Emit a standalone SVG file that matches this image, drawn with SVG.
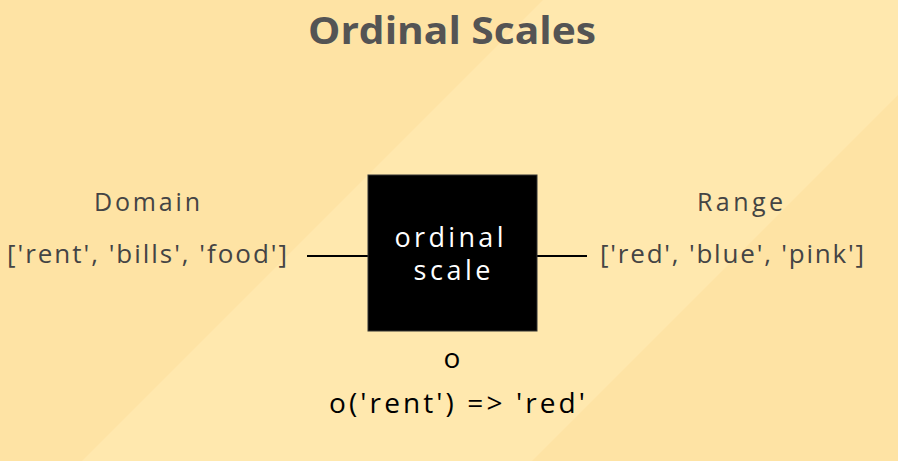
<svg xmlns="http://www.w3.org/2000/svg" width="898" height="461" viewBox="0 0 898 461">
  <style>
    .t { font-family: "Open Sans", "Noto Sans", "DejaVu Sans", sans-serif; text-anchor: middle; }
    .title { font-weight: 700; font-size: 38px; fill: #545454; }
    .lbl { font-size: 25px; fill: #444444; }
    .code { font-size: 26px; fill: #444444; }
    .box { fill: #000000; stroke: #333333; stroke-width: 1; }
    .boxtxt { font-size: 27px; fill: #ffffff; }
    .fn { font-size: 28px; fill: #000000; }
    .conn { stroke: #000000; stroke-width: 2; fill: none; }
  </style>
  <g id="background">
    <rect x="0" y="0" width="898" height="461" fill="#FEE3A4"/>
    <polygon points="543,0 898,0 898,95 532,461 82,461" fill="#FFE8AE"/>
  </g>
  <g id="title">
    <text class="t title" x="452" y="44" textLength="288" lengthAdjust="spacingAndGlyphs">Ordinal Scales</text>
  </g>
  <g id="connectors">
    <line class="conn" x1="307" y1="256" x2="368" y2="256"/>
    <line class="conn" x1="537" y1="256" x2="587" y2="256"/>
  </g>
  <g id="domain">
    <text class="t lbl" x="147" y="211" textLength="106" lengthAdjust="spacing">Domain</text>
    <text class="t code" x="147" y="263" textLength="280" lengthAdjust="spacing">['rent', 'bills', 'food']</text>
  </g>
  <g id="scale">
    <rect class="box" x="368" y="175" width="169" height="156"/>
    <text class="t boxtxt" x="449" y="247" textLength="109" lengthAdjust="spacing">ordinal</text>
    <text class="t boxtxt" x="452" y="280" textLength="77" lengthAdjust="spacing">scale</text>
  </g>
  <g id="range">
    <text class="t lbl" x="740" y="211" textLength="86" lengthAdjust="spacing">Range</text>
    <text class="t code" x="732" y="263" textLength="264" lengthAdjust="spacing">['red', 'blue', 'pink']</text>
  </g>
  <g id="usage">
    <text class="t fn" x="452" y="368">o</text>
    <text class="t fn" x="457" y="413" textLength="256" lengthAdjust="spacing">o('rent') =&gt; 'red'</text>
  </g>
</svg>
